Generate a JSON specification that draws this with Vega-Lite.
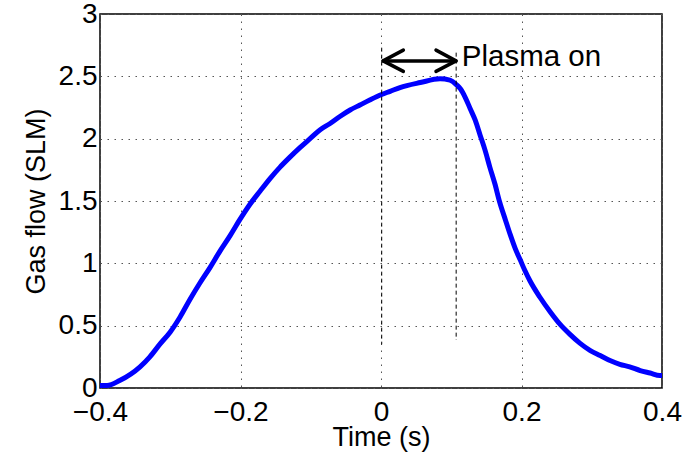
{
  "$schema": "https://vega.github.io/schema/vega-lite/v6.json",
  "autosize": {"type": "none"},
  "padding": {"left": 100, "top": 14, "right": 34, "bottom": 67},
  "width": 562,
  "height": 374,
  "background": "white",
  "config": {
    "font": "Liberation Sans",
    "view": {"stroke": "black", "strokeWidth": 1.5},
    "axis": {
      "domain": false,
      "ticks": false,
      "labelFont": "Liberation Sans",
      "labelFontSize": 28,
      "labelColor": "black",
      "labelFontWeight": "normal",
      "titleFont": "Liberation Sans",
      "titleFontSize": 27,
      "titleFontWeight": "normal",
      "titleColor": "black",
      "gridColor": "#555555",
      "gridDash": [1.5, 5.5],
      "gridWidth": 1,
      "gridOpacity": 1,
      "labelOverlap": false,
      "labelBound": false,
      "labelFlush": false
    }
  },
  "datasets": {
    "flow": [
      {"t": -0.400, "v": 0.02}, {"t": -0.390, "v": 0.02}, {"t": -0.372, "v": 0.06},
      {"t": -0.343, "v": 0.17}, {"t": -0.329, "v": 0.25}, {"t": -0.315, "v": 0.35},
      {"t": -0.300, "v": 0.45}, {"t": -0.286, "v": 0.57}, {"t": -0.272, "v": 0.71},
      {"t": -0.258, "v": 0.84}, {"t": -0.243, "v": 0.97}, {"t": -0.229, "v": 1.10},
      {"t": -0.215, "v": 1.22}, {"t": -0.201, "v": 1.35}, {"t": -0.187, "v": 1.47},
      {"t": -0.172, "v": 1.58}, {"t": -0.158, "v": 1.68}, {"t": -0.144, "v": 1.77},
      {"t": -0.130, "v": 1.85}, {"t": -0.115, "v": 1.93}, {"t": -0.101, "v": 2.00},
      {"t": -0.087, "v": 2.07}, {"t": -0.073, "v": 2.12}, {"t": -0.058, "v": 2.18},
      {"t": -0.044, "v": 2.23}, {"t": -0.030, "v": 2.27}, {"t": -0.016, "v": 2.31},
      {"t": -0.001, "v": 2.35}, {"t": 0.013, "v": 2.38}, {"t": 0.027, "v": 2.41},
      {"t": 0.056, "v": 2.45}, {"t": 0.084, "v": 2.48}, {"t": 0.098, "v": 2.47},
      {"t": 0.108, "v": 2.43}, {"t": 0.113, "v": 2.40}, {"t": 0.120, "v": 2.33},
      {"t": 0.127, "v": 2.24}, {"t": 0.134, "v": 2.15}, {"t": 0.141, "v": 2.03},
      {"t": 0.148, "v": 1.91}, {"t": 0.155, "v": 1.77}, {"t": 0.162, "v": 1.64},
      {"t": 0.169, "v": 1.49}, {"t": 0.177, "v": 1.35}, {"t": 0.184, "v": 1.23},
      {"t": 0.191, "v": 1.12}, {"t": 0.198, "v": 1.03}, {"t": 0.205, "v": 0.94},
      {"t": 0.212, "v": 0.86}, {"t": 0.226, "v": 0.73}, {"t": 0.241, "v": 0.61},
      {"t": 0.255, "v": 0.51}, {"t": 0.269, "v": 0.43}, {"t": 0.283, "v": 0.36},
      {"t": 0.298, "v": 0.30}, {"t": 0.312, "v": 0.26}, {"t": 0.326, "v": 0.22},
      {"t": 0.340, "v": 0.19}, {"t": 0.354, "v": 0.17}, {"t": 0.369, "v": 0.14},
      {"t": 0.383, "v": 0.12}, {"t": 0.397, "v": 0.10}, {"t": 0.400, "v": 0.10}
    ],
    "markers": [
      {"t": 0.001, "v": 2.73, "v2": 0.35},
      {"t": 0.107, "v": 2.69, "v2": 0.385}
    ],
    "arrow": [
      {"g": "L", "o": 1, "t": 0.0318, "v": 2.71},
      {"g": "L", "o": 2, "t": 0.003, "v": 2.624},
      {"g": "L", "o": 3, "t": 0.0318, "v": 2.54},
      {"g": "S", "o": 1, "t": 0.003, "v": 2.624},
      {"g": "S", "o": 2, "t": 0.1068, "v": 2.624},
      {"g": "R", "o": 1, "t": 0.0783, "v": 2.71},
      {"g": "R", "o": 2, "t": 0.1068, "v": 2.624},
      {"g": "R", "o": 3, "t": 0.0783, "v": 2.54}
    ],
    "note": [
      {"t": 0.115, "v": 2.58, "label": "Plasma on"}
    ]
  },
  "encoding": {
    "x": {
      "field": "t", "type": "quantitative",
      "scale": {"domain": [-0.4, 0.4], "nice": false, "zero": false},
      "axis": {
        "title": "Time (s)",
        "values": [-0.4, -0.2, 0, 0.2, 0.4],
        "format": "~g",
        "labelPadding": 10,
        "titleY": 57,
        "titleBaseline": "alphabetic"
      }
    },
    "y": {
      "field": "v", "type": "quantitative",
      "scale": {"domain": [0, 3], "nice": false, "zero": false},
      "axis": {
        "title": "Gas flow (SLM)",
        "values": [0, 0.5, 1, 1.5, 2, 2.5, 3],
        "format": "~g",
        "labelPadding": 3,
        "titleX": -56,
        "titleBaseline": "alphabetic"
      }
    }
  },
  "layer": [
    {
      "data": {"name": "flow"},
      "mark": {"type": "line", "color": "#0000FF", "strokeWidth": 5, "interpolate": "monotone", "strokeJoin": "round"}
    },
    {
      "data": {"name": "markers"},
      "mark": {"type": "rule", "color": "black", "strokeWidth": 1, "strokeDash": [4, 3]},
      "encoding": {
        "y2": {"field": "v2"}
      }
    },
    {
      "data": {"name": "arrow"},
      "mark": {"type": "line", "color": "black", "strokeWidth": 3.5, "strokeCap": "round", "strokeJoin": "round"},
      "encoding": {
        "detail": {"field": "g", "type": "nominal"},
        "order": {"field": "o", "type": "quantitative"}
      }
    },
    {
      "data": {"name": "note"},
      "mark": {"type": "text", "align": "left", "baseline": "alphabetic", "fontSize": 29.5, "font": "Liberation Sans", "color": "black"},
      "encoding": {
        "text": {"field": "label"}
      }
    }
  ]
}
